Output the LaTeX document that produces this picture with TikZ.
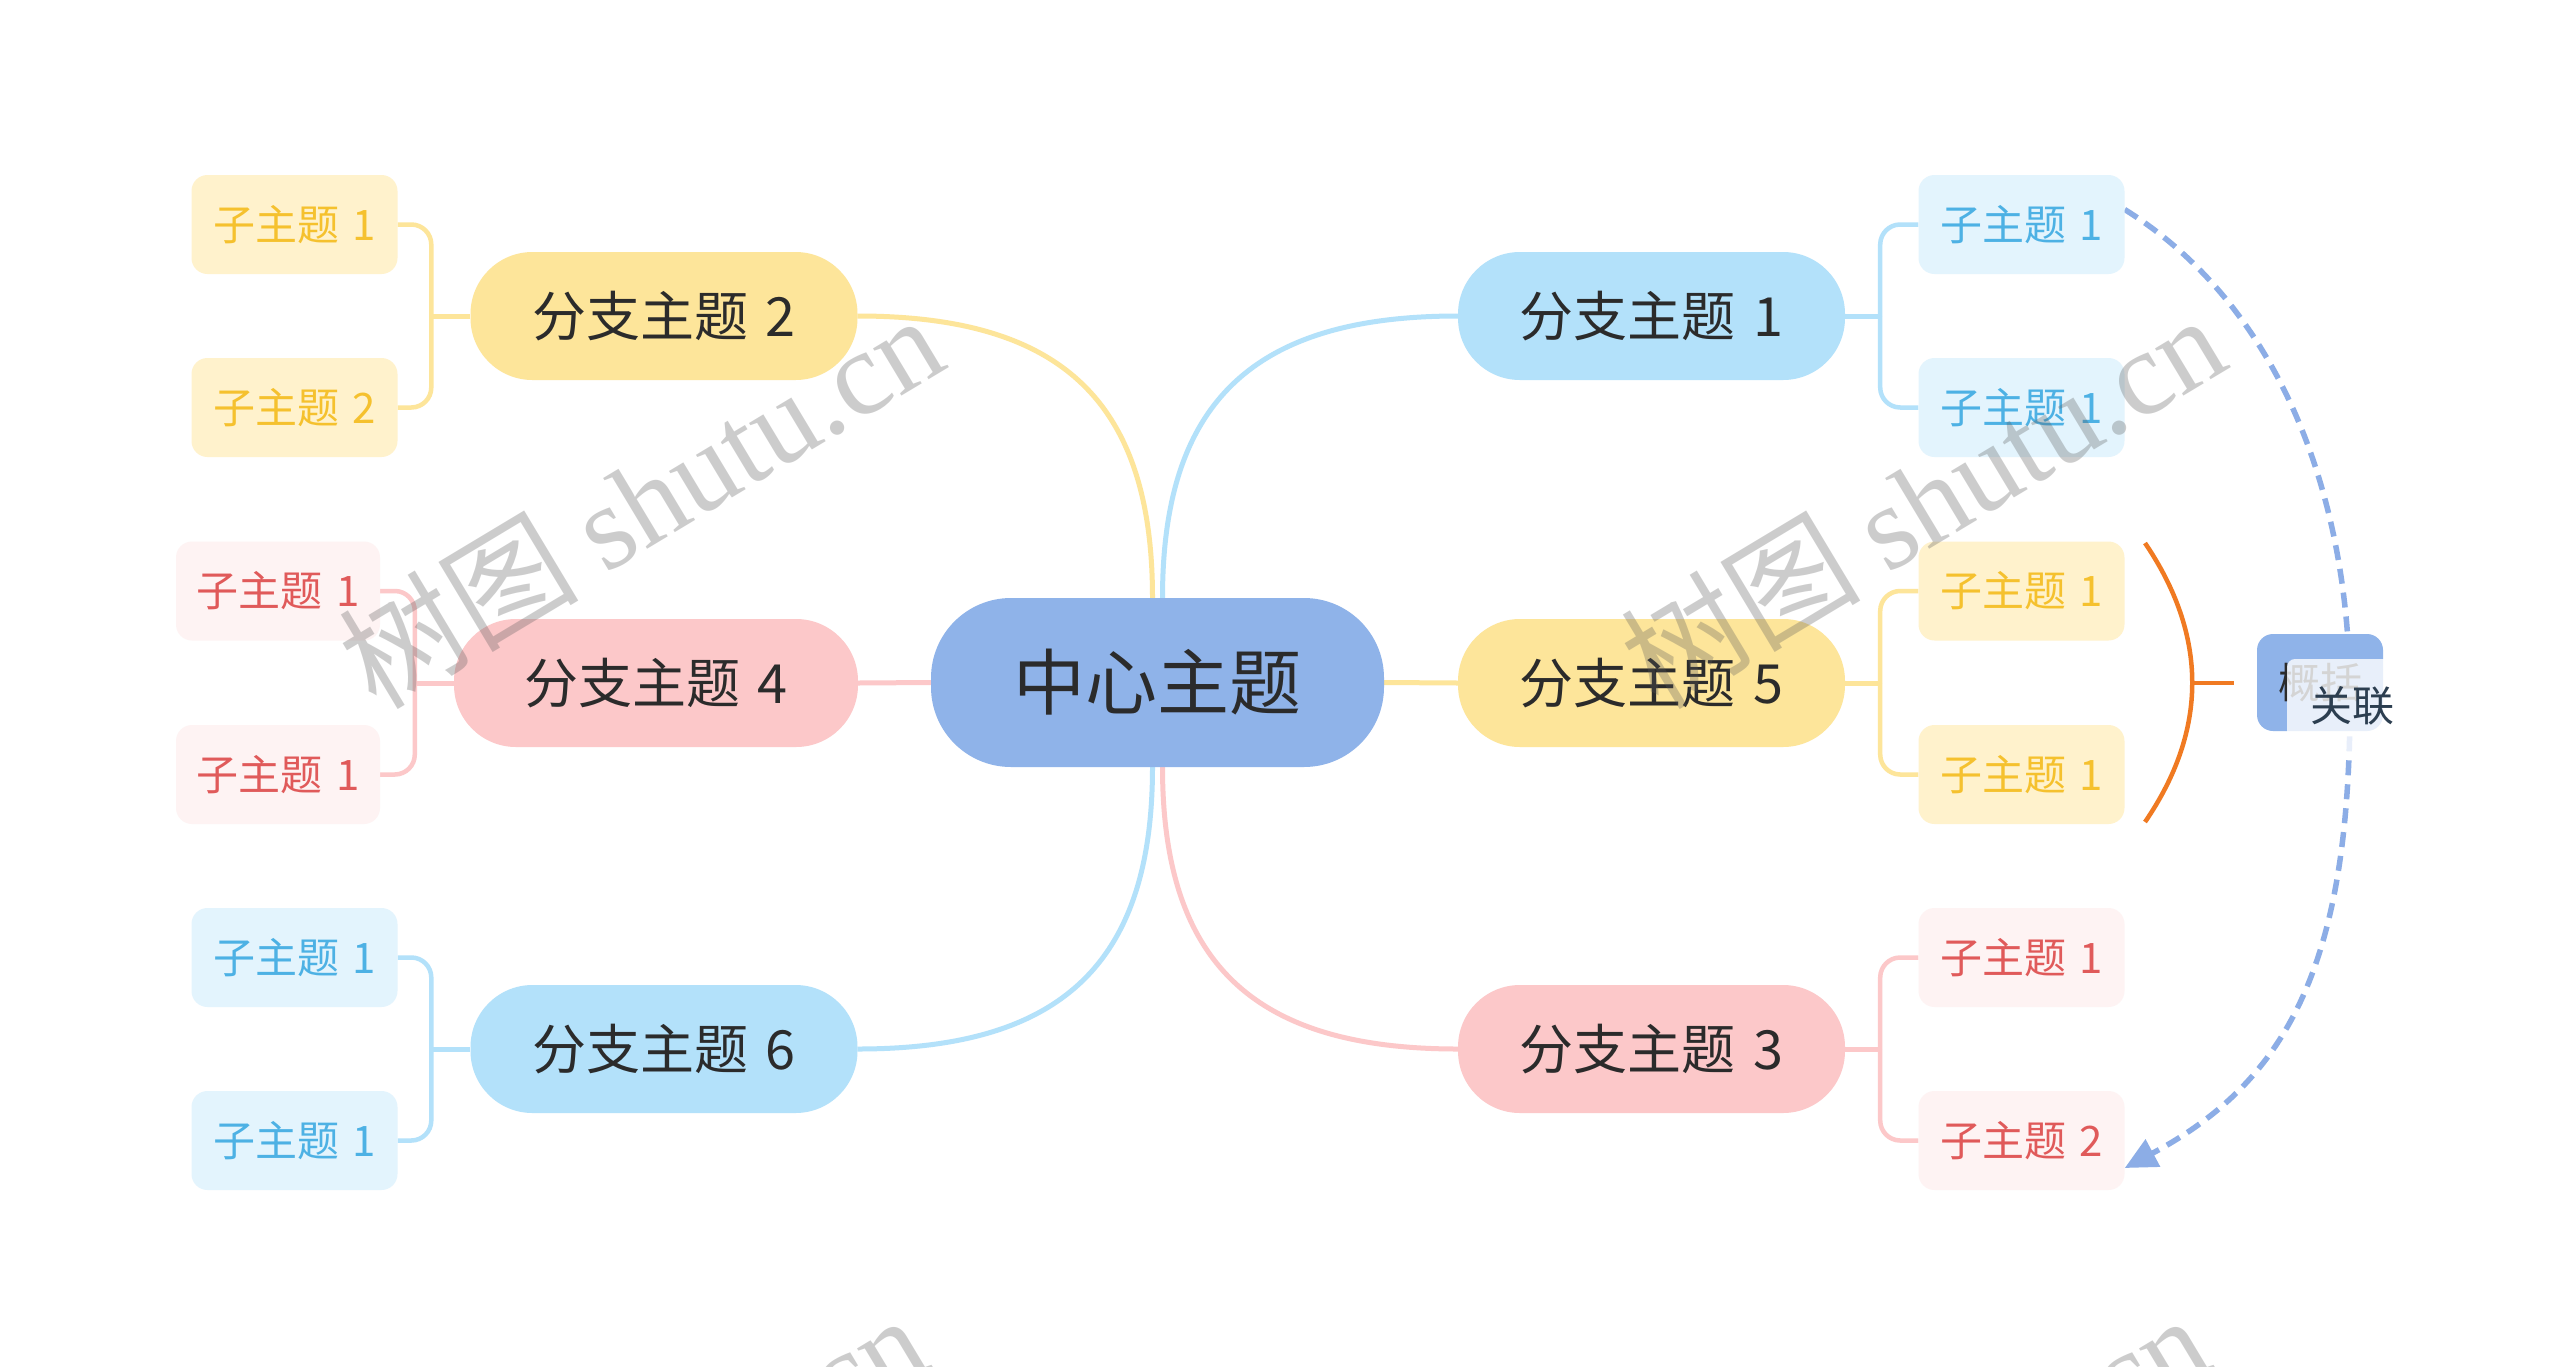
\documentclass[tikz,border=0pt]{standalone}
\usepackage{fontspec}
\setmainfont{Noto Sans CJK SC}
\newfontfamily\wmfont{Liberation Serif}
\usetikzlibrary{arrows.meta,backgrounds}

\definecolor{cmain}{HTML}{8FB3E9}
\definecolor{bblue}{HTML}{B3E1FA}
\definecolor{byel}{HTML}{FDE59A}
\definecolor{bpink}{HTML}{FCC8C9}
\definecolor{sblue}{HTML}{E3F4FD}
\definecolor{syel}{HTML}{FFF2CC}
\definecolor{spink}{HTML}{FEF3F3}
\definecolor{tblue}{HTML}{4DB1E4}
\definecolor{tyel}{HTML}{F5C12E}
\definecolor{tred}{HTML}{E05A5A}
\definecolor{relc}{HTML}{8CADE6}
\definecolor{orng}{HTML}{F07A22}
\definecolor{darktxt}{HTML}{2B2B2B}
\definecolor{navytxt}{HTML}{2C3E50}
\newcommand\tsp{\hspace{0.32em}}

\begin{document}
\begin{tikzpicture}[x=1pt,y=-1pt,
  centernode/.style={rounded corners=80pt, fill=cmain, minimum width=453pt, minimum height=169pt,
    font=\fontsize{72}{80}\selectfont, text=darktxt, inner sep=0pt},
  branch/.style={rounded corners=62pt, minimum height=128pt, minimum width=387pt,
    font=\fontsize{54}{60}\selectfont, text=darktxt, inner sep=0pt},
  subnode/.style={rounded corners=16pt, minimum height=99pt, minimum width=206pt,
    font=\fontsize{42}{48}\selectfont, inner sep=0pt},
  subyel/.style={subnode, fill=syel, text=tyel},
  subblue/.style={subnode, fill=sblue, text=tblue},
  subred/.style={subnode, fill=spink, text=tred},
  conn/.style={line width=5pt},
  brk/.style={line width=4.5pt, rounded corners=20pt},
  summ/.style={rounded corners=16pt, fill=cmain, minimum width=126pt, minimum height=97pt,
    font=\fontsize{42}{48}\selectfont, text=darktxt, inner sep=0pt},
  rlabel/.style={rounded corners=8pt, fill=white, fill opacity=0.8, text opacity=1,
    minimum width=130pt, minimum height=94pt, font=\fontsize{42}{48}\selectfont,
    text=navytxt, inner sep=0pt},
  wm/.style={text=black!65, opacity=0.3, font=\fontsize{120}{130}\selectfont, inner sep=0pt}
]
\useasboundingbox (0,0) rectangle (2560,1366);
\clip (0,0) rectangle (2560,1366);

% main nodes
\node[centernode] (C) at (1157.5,682.5) {中心主题};
\node[branch, fill=bblue] (B1) at (1651.5,316) {分支主题\tsp 1};
\node[branch, fill=byel]  (B2) at (664,316) {分支主题\tsp 2};
\node[branch, fill=bpink] (B3) at (1651.5,1049) {分支主题\tsp 3};
\node[branch, fill=bpink, minimum width=404pt] (B4) at (656,683) {分支主题\tsp 4};
\node[branch, fill=byel]  (B5) at (1651.5,683) {分支主题\tsp 5};
\node[branch, fill=bblue] (B6) at (664,1049) {分支主题\tsp 6};

% sub topics
\node[subblue] (S11) at (2021.5,224.5) {子主题\tsp 1};
\node[subblue] (S12) at (2021.5,407.5) {子主题\tsp 1};
\node[subyel]  (S21) at (294.5,224.5) {子主题\tsp 1};
\node[subyel]  (S22) at (294.5,407.5) {子主题\tsp 2};
\node[subred]  (S31) at (2021.5,957.5) {子主题\tsp 1};
\node[subred]  (S32) at (2021.5,1140.5) {子主题\tsp 2};
\node[subred, minimum width=204pt] (S41) at (278,591) {子主题\tsp 1};
\node[subred, minimum width=204pt] (S42) at (278,774.5) {子主题\tsp 1};
\node[subyel]  (S51) at (2021.5,591) {子主题\tsp 1};
\node[subyel]  (S52) at (2021.5,774.5) {子主题\tsp 1};
\node[subblue] (S61) at (294.5,957.5) {子主题\tsp 1};
\node[subblue] (S62) at (294.5,1140.5) {子主题\tsp 1};

\begin{pgfonlayer}{background}
\fill[white] (0,0) rectangle (2560,1366);
% center to branches
\draw[conn, byel]  ([xshift=-5pt]C.north) .. controls +(0,-200) and +(200,0) .. (B2.east);
\draw[conn, bblue] ([xshift=5pt]C.north) .. controls +(0,-200) and +(-200,0) .. (B1.west);
\draw[conn, bblue] ([xshift=-5pt]C.south) .. controls +(0,200) and +(200,0) .. (B6.east);
\draw[conn, bpink] ([xshift=5pt]C.south) .. controls +(0,200) and +(-200,0) .. (B3.west);
\draw[conn, bpink] (C.west) -- (B4.east);
\draw[conn, byel]  (C.east) -- (B5.west);

% branch brackets (right side)
\foreach \b/\ca/\cb/\col in {B1/S11/S12/bblue, B5/S51/S52/byel, B3/S31/S32/bpink}{
  \draw[conn, \col] (\b.east) -- ([xshift=35pt]\b.east);
  \draw[brk, \col] (\ca.west) -| ([xshift=35pt]\b.east);
  \draw[brk, \col] (\cb.west) -| ([xshift=35pt]\b.east);
}
% branch brackets (left side)
\foreach \b/\ca/\cb/\col in {B2/S21/S22/byel, B4/S41/S42/bpink, B6/S61/S62/bblue}{
  \draw[conn, \col] (\b.west) -- ([xshift=-39pt]\b.west);
  \draw[brk, \col] (\ca.east) -| ([xshift=-39pt]\b.west);
  \draw[brk, \col] (\cb.east) -| ([xshift=-39pt]\b.west);
}

% relation (dashed)
\draw[relc, line width=5.5pt, dash pattern=on 15pt off 9pt, -{Triangle[length=32pt,width=30pt]}]
  ([yshift=15pt]S11.east) .. controls (2270,300) and (2350,480) .. (2350,700)
  .. controls (2350,960) and (2290,1080) .. ([yshift=-27.5pt]S32.east);
\end{pgfonlayer}

% summary brace
\coordinate (BrT) at (2145,543);
\coordinate (BrB) at (2145,822);
\coordinate (BrM) at (2192,683);
\coordinate (BrE) at (2234,683);
\draw[orng, line width=4.5pt] (BrT) .. controls (2208,636) and (2208,730) .. (BrB);
\draw[orng, line width=4.5pt] (BrM) -- (BrE);

\node[summ] (SM) at (2320,682.5) {概括};
\node[rlabel] (RL) at (2352,706) {关联};

% watermarks
\node[wm, rotate=31] (W1) at (640,500) {树图 {\wmfont shutu.cn}};
\node[wm, rotate=31] (W2) at (1922,500) {树图 {\wmfont shutu.cn}};
\node[wm, rotate=31] (W3) at (624,1500) {树图 {\wmfont shutu.cn}};
\node[wm, rotate=31] (W4) at (1906,1500) {树图 {\wmfont shutu.cn}};
\end{tikzpicture}
\end{document}
